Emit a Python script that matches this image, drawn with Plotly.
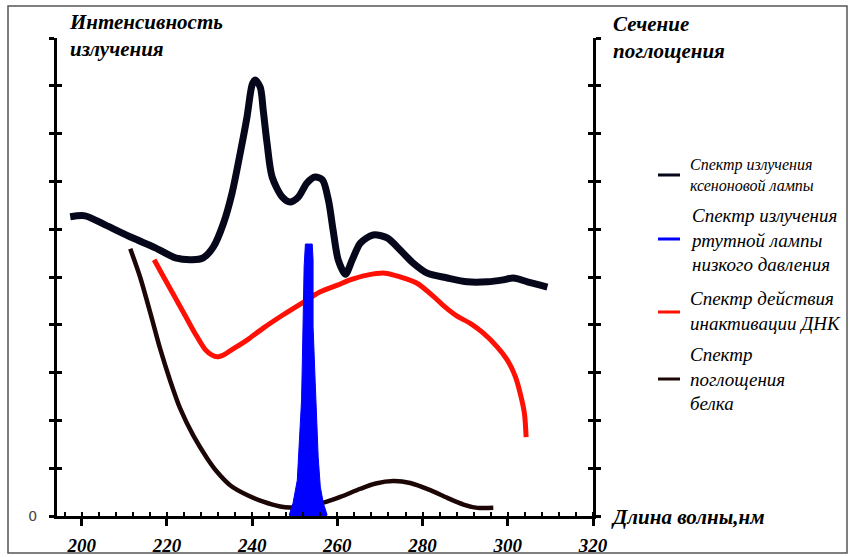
import plotly.graph_objects as go

# ---- data ----
xenon_x = [197.3, 200.8, 205.5, 211.9, 217.3, 222.0, 225.9, 228.5, 230.9, 233.3, 235.3, 237.2, 238.8,
           240.0, 240.7, 241.9, 242.6, 243.5, 244.7, 247.1, 248.9, 250.8, 252.9, 254.8, 256.5, 257.9,
           259.0, 260.2, 261.9, 263.5, 265.4, 268.4, 271.7, 274.8, 277.8, 281.1, 285.8, 290.5, 295.2,
           298.9, 301.3, 304.6, 307.6, 309.3]
xenon_y = [6.26, 6.28, 6.09, 5.82, 5.61, 5.40, 5.36, 5.40, 5.63, 6.13, 6.76, 7.59, 8.35,
           9.02, 9.12, 8.97, 8.49, 7.80, 7.09, 6.67, 6.57, 6.67, 6.97, 7.09, 7.03, 6.61,
           5.98, 5.36, 5.06, 5.36, 5.71, 5.88, 5.82, 5.56, 5.29, 5.08, 4.98, 4.90, 4.90,
           4.94, 4.98, 4.90, 4.83, 4.79]

mercury_x = [248.7, 249.6, 250.6, 251.1, 251.6, 251.8, 252.0, 252.2, 252.5, 254.1, 254.3, 254.3,
             254.8, 255.2, 255.5, 256.0, 256.7, 257.6]
mercury_y = [0.02, 0.27, 0.75, 1.59, 2.43, 3.31, 4.37, 5.21, 5.69, 5.69, 5.36, 3.97,
             2.80, 1.95, 1.23, 0.61, 0.27, 0.02]

dna_x = [217.0, 219.1, 221.5, 224.3, 226.6, 229.0, 230.5, 231.8, 233.5, 234.9, 238.8, 242.6, 247.3,
         251.8, 256.0, 260.0, 263.0, 267.0, 271.2, 274.8, 278.7, 282.5, 284.9, 288.1, 291.2, 294.2,
         297.5, 299.9, 301.8, 302.9, 303.9, 304.3]
dna_y = [5.36, 5.02, 4.64, 4.19, 3.82, 3.48, 3.37, 3.33, 3.38, 3.46, 3.68, 3.93, 4.21,
         4.46, 4.69, 4.83, 4.94, 5.04, 5.08, 5.00, 4.87, 4.60, 4.40, 4.18, 4.03, 3.83,
         3.54, 3.26, 2.91, 2.57, 2.15, 1.65]

protein_x = [211.4, 213.7, 216.1, 218.4, 220.8, 223.1, 226.2, 229.5, 231.8, 234.9, 238.8, 242.6,
             246.6, 248.9, 251.3, 256.7, 260.7, 265.4, 269.0, 273.2, 277.1, 281.8, 285.8, 289.6,
             292.9, 296.6]
protein_y = [5.59, 5.00, 4.25, 3.50, 2.82, 2.25, 1.68, 1.20, 0.92, 0.64, 0.44, 0.30,
             0.20, 0.18, 0.20, 0.28, 0.40, 0.57, 0.68, 0.73, 0.69, 0.54, 0.38, 0.24,
             0.17, 0.17]

x_ticks = [200, 220, 240, 260, 280, 300, 320]
y_ticks = list(range(0, 11))
y_ticktext = ["0"] + [""] * 10

legend_names = [
    "Спектр излучения<br>ксеноновой лампы",
    "Спектр излучения<br>ртутной лампы<br>низкого давления",
    "Спектр действия<br>инактивации ДНК",
    "Спектр<br>поглощения<br>белка",
]

C_XENON = "#07071c"
C_MERC = "#0000ff"
C_DNA = "#ff1005"
C_PROT = "#1c0606"

SERIF = "Liberation Serif"

fig = go.Figure()
# empty helper traces so the extra tick axes (crossing ticks) are built
for ax in ["y2", "y3", "y4"]:
    fig.add_trace(go.Scatter(x=[], y=[], yaxis=ax, mode="lines", hoverinfo="skip", showlegend=False))

fig.add_trace(go.Scatter(x=protein_x, y=protein_y, mode="lines",
                         line=dict(color=C_PROT, width=4.5, shape="spline", smoothing=0.8)))
fig.add_trace(go.Scatter(x=dna_x, y=dna_y, mode="lines",
                         line=dict(color=C_DNA, width=5, shape="spline", smoothing=0.8)))
fig.add_trace(go.Scatter(x=mercury_x, y=mercury_y, mode="lines", fill="tozeroy",
                         fillcolor=C_MERC, line=dict(color=C_MERC, width=1)))
fig.add_trace(go.Scatter(x=xenon_x, y=xenon_y, mode="lines",
                         line=dict(color=C_XENON, width=7, shape="spline", smoothing=0.8)))

W, H = 857, 557
L, R, T, B = 57, 593, 38, 516
PW, PH = R - L, B - T


def px(xp):
    return (xp - L) / PW


def py(yp):
    return (B - yp) / PH


axis_common = dict(range=[0, 10], tickvals=y_ticks, showgrid=False, zeroline=False,
                   tickcolor="black", tickwidth=3, ticklen=5, automargin=False)

fig.update_layout(
    width=W, height=H,
    margin=dict(l=L, r=W - R, t=T, b=H - B, autoexpand=False),
    paper_bgcolor="white", plot_bgcolor="white",
    showlegend=False,
    xaxis=dict(range=[194.2, 320], tickvals=x_ticks, showgrid=False, zeroline=False,
               automargin=False,
               showline=True, linecolor="black", linewidth=3,
               ticks="outside", ticklen=7, tickwidth=3, tickcolor="black",
               ticklabelstandoff=3,
               tickfont=dict(family=SERIF, size=19, color="black", weight="bold", style="italic"),
               minor=dict(ticks="inside", ticklen=4, tickwidth=2, tickcolor="black",
                          tick0=200, dtick=4)),
    yaxis=dict(**axis_common, ticktext=y_ticktext, showline=True, linecolor="black",
               linewidth=3, ticks="outside", ticklabelstandoff=9,
               tickfont=dict(family="DejaVu Sans", size=14, color="#444")),
    yaxis3=dict(**axis_common, overlaying="y", side="left", anchor="x", ticks="inside",
                showticklabels=False, showline=False),
    yaxis2=dict(**axis_common, overlaying="y", side="right", anchor="x", ticks="outside",
                showticklabels=False, showline=True, linecolor="black", linewidth=3),
    yaxis4=dict(**axis_common, overlaying="y", side="right", anchor="x", ticks="inside",
                showticklabels=False, showline=False),
)

title_font = dict(family=SERIF, size=21, color="black", weight="bold", style="italic")
fig.add_annotation(text="Интенсивность<br>излучения", xref="paper", yref="paper",
                   x=px(67), y=py(35), xanchor="left", yanchor="middle", align="left",
                   showarrow=False, font=title_font)
fig.add_annotation(text="Сечение<br>поглощения", xref="paper", yref="paper",
                   x=px(611), y=py(37), xanchor="left", yanchor="middle", align="left",
                   showarrow=False, font=title_font)
fig.add_annotation(text="Длина волны,нм", xref="paper", yref="paper",
                   x=px(609), y=py(517), xanchor="left", yanchor="middle", align="left",
                   showarrow=False, font=title_font)

legend_colors = [C_XENON, C_MERC, C_DNA, C_PROT]
legend_text_y = [175, 240, 311, 379]
legend_line_y = [175, 239, 312, 379]
legend_sizes = [16, 19, 19, 19]
for name, col, ty, ly, fs in zip(legend_names, legend_colors, legend_text_y, legend_line_y, legend_sizes):
    fig.add_shape(type="line", xref="paper", yref="paper", x0=px(658), x1=px(680),
                  y0=py(ly), y1=py(ly), line=dict(color=col, width=3))
    fig.add_annotation(text=name, xref="paper", yref="paper", x=px(688), y=py(ty),
                       xanchor="left", yanchor="middle", align="left", showarrow=False,
                       font=dict(family=SERIF, size=fs, color="black", style="italic"))

# outer frame
fig.add_shape(type="rect", xref="paper", yref="paper", x0=px(8), x1=px(847), y0=py(553), y1=py(6),
              line=dict(color="#555", width=1.5), fillcolor="rgba(0,0,0,0)", layer="below")

fig.write_html("out.html", config={"displayModeBar": False},
               post_script="document.body.style.margin='0px';")
